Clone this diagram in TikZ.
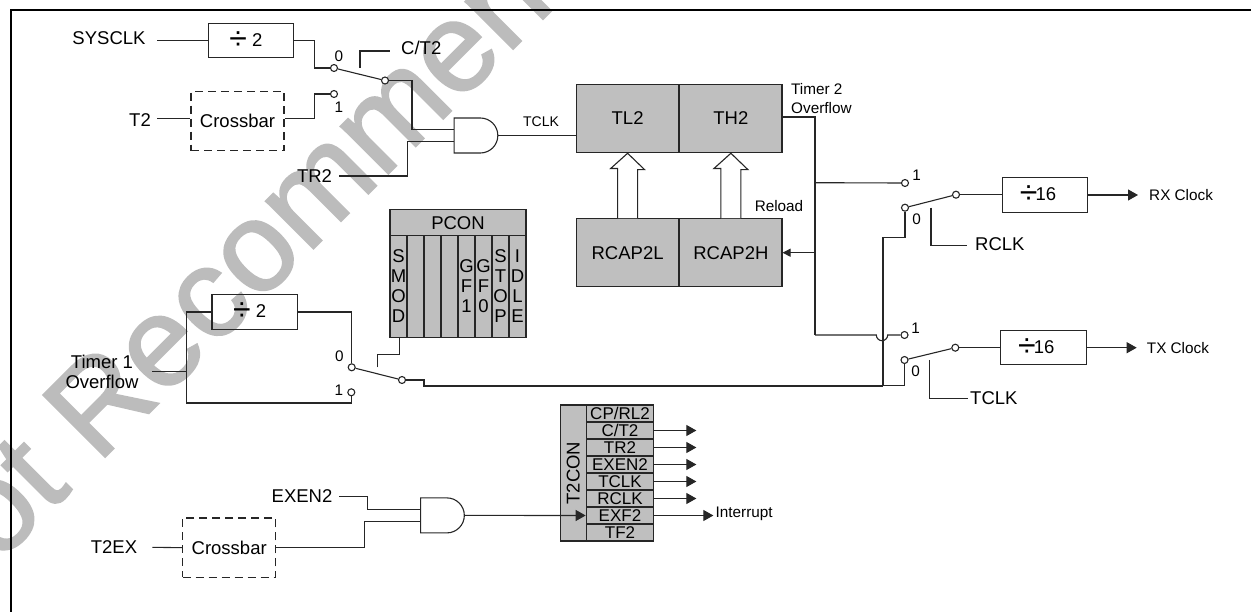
\documentclass[tikz,border=0pt]{standalone}
\usepackage{fontspec}
\setmainfont{Liberation Sans}
\newfontfamily\markfont[FakeBold=1.6]{Liberation Sans}
\usetikzlibrary{arrows.meta,calc,positioning,shapes.gates.logic.US}
\definecolor{regfill}{RGB}{191,191,191}
\definecolor{wmgray}{RGB}{188,188,188}
\newcommand{\fbig}{\fontsize{18.5}{20}\selectfont}
\newcommand{\fsmall}{\fontsize{15.3}{19}\selectfont}
\newcommand{\frow}{\fontsize{17}{17}\selectfont}
\newcommand{\divsign}{\raisebox{-3.5pt}{\fontsize{32}{32}\selectfont ÷}}
\newcommand{\divtwo}{\divsign\ 2\kern10pt}
\newcommand{\divsixteen}{\divsign\kern-2pt 16\kern14pt}

\begin{document}
\begin{tikzpicture}[
  x=1pt, y=-1pt,
  wire/.style={line width=1.1pt, black!85},
  heavywire/.style={line width=1.8pt, black!85},
  arr/.style={wire, -{Triangle[length=10pt, width=11pt]}},
  arrsmall/.style={wire, -{Triangle[length=8pt, width=8pt]}},
  lbl/.style={inner sep=0pt, font=\fbig},
  tinylbl/.style={inner sep=0pt, font=\fsmall},
  pin/.style={circle, draw=black!85, fill=white, line width=1.1pt, minimum size=7pt, inner sep=0pt},
  divbox/.style={draw=black!85, line width=1.1pt, minimum width=85.5pt, minimum height=34.5pt, inner sep=0pt, font=\fbig},
  xbar/.style={draw=black!85, dashed, dash pattern=on 8pt off 5pt, line width=1.1pt, minimum width=93pt, minimum height=59.5pt, inner sep=0pt, font=\fbig},
  reg/.style={draw=black!85, fill=regfill, line width=1.1pt, minimum width=102.2pt, minimum height=67.8pt, inner sep=0pt, font=\fbig},
  cell/.style={draw=black!85, fill=regfill, line width=1.1pt, inner sep=0pt},
  gate/.style={and gate US, draw=black!85, line width=1.1pt, logic gate inputs=nn, minimum height=35pt, minimum width=43pt, inner sep=0pt},
  blockarr/.style={draw=black!85, fill=white, line width=1.1pt}
]
\useasboundingbox (0,0) rectangle (1251,612);

% watermark
\begin{scope}
\clip (0,0) rectangle (1251,612);
\node[rotate=45, anchor=base west, inner sep=0pt, text=wmgray, font=\markfont\fontsize{127}{127}\selectfont] (mark) at (-67,629) {Not Recommended for New Designs};
\end{scope}

% frame
\coordinate (frametl) at (11,10);
\coordinate (frametr) at (1251,10);
\coordinate (framebl) at (11,612);
\draw[heavywire, black] (frametr) -- (frametl) -- (framebl);

% top left clock select
\node[lbl] (sysclk) at (109,38) {SYSCLK};
\node[divbox] (divA) at (250.8,40.7) {\divtwo};
\node[lbl] (ttwo) at (140,120) {T2};
\node[xbar] (xbarA) at (237.5,121) {Crossbar};
\node[pin] (clkzero) at (334,68) {};
\node[pin] (clkone) at (334,94) {};
\node[pin] (clkout) at (385,80.5) {};
\node[tinylbl] (clkzerolbl) at (339,56) {0};
\node[tinylbl] (clkonelbl) at (339,107) {1};
\coordinate (sysend) at (157,40.7);
\coordinate (ttwoend) at (157,118.5);
\coordinate (ctstub) at (360,68);
\coordinate (ctend) at (390,51);
\node[lbl, anchor=west] (ctlbl) at (401,48) {C/T2};
\node[gate] (andA) at (474.5,135.5) {};
\node[lbl] (trtwo) at (314.5,176) {TR2};
\coordinate (trend) at (339,176);
\coordinate (trknee) at (407.5,176);
\coordinate (clkknee) at (412,80.5);

\draw[wire] (sysend) -- (divA.west);
\draw[wire] (divA.east) -- ++(20.5,0) |- (clkzero.west);
\draw[wire] (ttwoend) -- (ttwoend -| xbarA.west);
\draw[wire] (ttwoend -| xbarA.east) -- ++(30,0) |- (clkone.west);
\draw[wire] (clkzero) -- (clkout);
\draw[wire] (clkout.east) -- (clkknee) |- (andA.input 1);
\draw[wire] (ctstub) |- (ctend);
\draw[wire] (trend) -- (trknee) |- (andA.input 2);

% timer 2 registers
\node[reg] (tltwo) at (627.6,118.5) {TL2};
\node[reg, right=0pt of tltwo] (thtwo) {TH2};
\node[reg] (rcapl) at (627.6,252.7) {RCAP2L};
\node[reg, right=0pt of rcapl] (rcaph) {RCAP2H};
\node[tinylbl, font=\fontsize{14}{14}\selectfont] (tclklbl) at (541,122) {TCLK};
\draw[wire] (andA.output) -- (tltwo.west |- andA.output);
\foreach \low/\up in {rcapl/tltwo, rcaph/thtwo} {
  \draw[blockarr] ($(\low.north)+(-10,0)$) -- ++(0,-49.7) -- ++(-7,0) -- ($(\up.south)+(0,0.3)$) -- ($(\up.south)+(17,16.7)$) -- ++(-7,0) -- ($(\low.north)+(10,0)$);
}
\node[tinylbl, anchor=west, align=left] (ovflbl) at (791,98.5) {Timer 2\\Overflow};
\node[tinylbl] (reloadlbl) at (779,206) {Reload};
\coordinate (ovfknee) at (815,117);
\coordinate (ovfmid) at (815,182.7);
\coordinate (ovfbot) at (815,335);
\draw[wire] (ovfknee -| thtwo.east) -- (ovfknee) -- (ovfbot);
\draw[arrsmall] (ovfknee |- rcaph.east) -- (rcaph.east);

% RX side
\node[pin] (rxone) at (905,183) {};
\node[pin] (rxzero) at (905,207.7) {};
\node[pin] (rxout) at (956,194.7) {};
\node[tinylbl] (rxonelbl) at (916.5,175) {1};
\node[tinylbl] (rxzerolbl) at (916.5,219.3) {0};
\node[divbox] (divRX) at (1045,195) {\divsixteen};
\node[tinylbl, anchor=west] (rxclock) at (1149,195) {RX Clock};
\node[lbl, anchor=west] (rclklbl) at (975,244) {RCLK};
\coordinate (rxstub) at (931,207.7);
\coordinate (rxstubend) at (966.5,245.7);
\coordinate (rxdrop) at (883,237.3);
\coordinate (rxend) at (1138,195);
\coordinate (busjoin) at (883,385.7);
\draw[wire] (ovfmid) -- (rxone.west);
\draw[wire] (rxzero) -- (rxout);
\draw[wire] (rxout.east) -- (divRX.west |- rxout.east);
\draw[arr] (divRX.east) -- (rxend);
\draw[wire] (rxstub) |- (rxstubend);
\draw[wire] (rxzero.south) |- (rxdrop) -- (busjoin);

% TX side
\node[pin] (txone) at (904.5,335) {};
\node[pin] (txzero) at (904.5,360) {};
\node[pin] (txout) at (955.3,347.7) {};
\node[tinylbl] (txonelbl) at (915.7,328) {1};
\node[tinylbl] (txzerolbl) at (915.7,371.7) {0};
\node[divbox] (divTX) at (1043.3,347.7) {\divsixteen};
\node[tinylbl, anchor=west] (txclock) at (1146.7,348) {TX Clock};
\node[lbl, anchor=west] (tclkright) at (970,398) {TCLK};
\coordinate (txstub) at (929.7,360);
\coordinate (txstubend) at (968,398.3);
\coordinate (txend) at (1136.7,347.7);
\draw[wire] (ovfbot) -- (876.3,335) arc[start angle=180, end angle=0, radius=5.7] -- (txone.west);
\draw[wire] (txzero) -- (txout);
\draw[wire] (txout.east) -- (divTX.west |- txout.east);
\draw[arr] (divTX.east) -- (txend);
\draw[wire] (txstub) |- (txstubend);
\draw[wire] (busjoin) -| (txzero.south);

% timer 1 select and PCON
\node[divbox] (divB) at (254.7,312) {\divtwo};
\node[lbl, align=center] (tonelbl) at (102,371.7) {Timer 1\\Overflow};
\coordinate (tonestart) at (152.3,371.3);
\coordinate (tonejoin) at (186.7,371.3);
\coordinate (toneturn) at (351.3,403);
\node[pin] (smodzero) at (351.7,367.3) {};
\node[pin] (smodone) at (351.3,392.3) {};
\node[pin] (smodout) at (402,380) {};
\node[tinylbl] (smodzerolbl) at (339.3,356) {0};
\node[tinylbl] (smodonelbl) at (339,390) {1};
\coordinate (smodstub) at (377.7,367.3);
\coordinate (smodturn) at (399.3,354.3);
\coordinate (smodknee) at (424.3,380);
\draw[wire] (tonestart) -- (tonejoin);
\draw[wire] (divB.west) -| (tonejoin) |- (toneturn) -- (smodone.south);
\draw[wire] (divB.east) -| (smodzero.north);
\draw[wire] (smodzero) -- (smodout);
\draw[heavywire] (smodout.east) -- (smodknee) |- (busjoin);

\node[cell, minimum width=136pt, minimum height=25.7pt, font=\fbig] (pcon) at (458,222.8) {PCON};
\foreach \i/\bits in {0/{S\\M\\O\\D}, 1/{}, 2/{}, 3/{}, 4/{G\\F\\1}, 5/{G\\F\\0}, 6/{S\\T\\O\\P}, 7/{I\\D\\L\\E}} {
  \node[cell, minimum width=17pt, minimum height=101.6pt, align=center, font=\fbig] (pconbit\i) at (398.5+17*\i,286.5) {\bits};
}
\draw[wire] (smodstub) |- (smodturn) -- (pconbit0.south -| smodturn);

% T2CON
\node[cell, minimum width=26pt, minimum height=136pt, font=\fbig] (ttwocon) at (573.3,473) {\rotatebox{90}{T2CON}};
\foreach \i/\flag in {0/CP\slash RL2, 1/C\slash T2, 2/TR2, 3/EXEN2, 4/TCLK, 5/RCLK, 6/EXF2, 7/TF2} {
  \node[cell, minimum width=67.6pt, minimum height=17pt, font=\frow] (flag\i) at (620,413.5+17*\i) {\flag};
}
\foreach \i in {1,...,5} {
  \draw[arr] (flag\i.east) -- ++(42,0);
}
\draw[arr] (flag6.east) -- ++(59,0);
\node[tinylbl, anchor=west] (intlbl) at (715.5,514.3) {Interrupt};

% external enable
\node[lbl] (exentwo) at (302,496) {EXEN2};
\node[lbl] (ttwoex) at (114,547) {T2EX};
\node[xbar] (xbarB) at (229.2,547.7) {Crossbar};
\node[gate] (andB) at (441,515.4) {};
\coordinate (exenstart) at (339,496.3);
\coordinate (exenknee) at (367.2,496.3);
\coordinate (xbarknee) at (364.8,547.7);
\coordinate (twoexend) at (152.3,547.3);
\draw[wire] (exenstart) -- (exenknee) |- (andB.input 1);
\draw[wire] (xbarB.east) -- (xbarknee) |- (andB.input 2);
\draw[wire] (twoexend) -- (xbarB.west);
\draw[arr] (andB.output) -- (flag6.west);

\end{tikzpicture}
\end{document}
